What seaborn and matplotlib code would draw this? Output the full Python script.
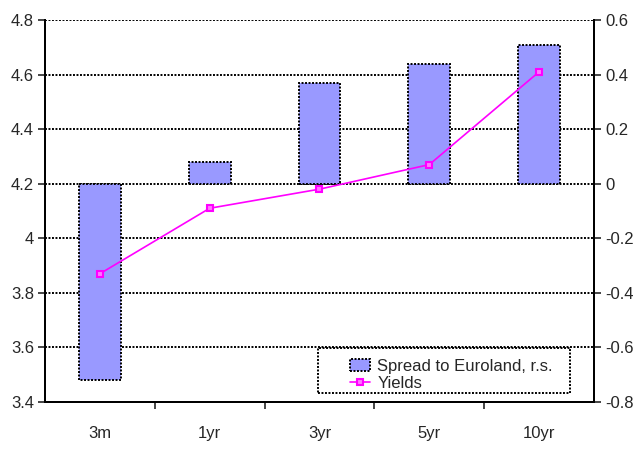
import pandas as pd
import matplotlib.pyplot as plt
import numpy as np
import seaborn as sns
from matplotlib.patches import Patch, Rectangle
from matplotlib.lines import Line2D
from matplotlib.ticker import FixedLocator

maturities = ["3m", "1yr", "3yr", "5yr", "10yr"]
spread = [-0.72, 0.08, 0.37, 0.44, 0.51]
yields = [3.87, 4.11, 4.18, 4.27, 4.61]

sns.set_style("white")
plt.rcParams['font.family'] = ['Liberation Sans', 'DejaVu Sans']

datam = pd.DataFrame({"Maturity": maturities, "Spread": spread, "Yields": yields})

dot = (0, (1, 0.8))
lw = 1.4
fig = plt.figure(figsize=(6.38, 4.5), dpi=100)
ax = fig.add_axes([0.0705, 0.1067, 0.8605, 0.8489])
ax2 = ax.twinx()

# bars on the right scale, behind
sns.barplot(x="Maturity", y="Spread", data=datam, ax=ax2, color="#9999FF",
            saturation=1, width=0.38, edgecolor="black", linewidth=lw, linestyle=dot)
ax2.set_ylim(-0.8, 0.6)
ax2.set_yticks(np.arange(-0.8, 0.61, 0.2))
ax2.set_yticklabels(["-0.8", "-0.6", "-0.4", "-0.2", "0", "0.2", "0.4", "0.6"])
ax2.yaxis.grid(True, color="black", linestyle=dot, linewidth=lw)
ax2.set_axisbelow(True)
ax2.set_ylabel("")
ax2.set_xlabel("")

# line on the left scale, on top
sns.lineplot(x="Maturity", y="Yields", data=datam, ax=ax, color="#FF00FF",
             marker="s", markersize=5, markerfacecolor="#FF77FF",
             markeredgecolor="#FF00FF", markeredgewidth=1.5, linewidth=1.2, sort=False)
ax.set_zorder(ax2.get_zorder() + 1)
ax.patch.set_visible(False)
ax.set_ylim(3.4, 4.8)
ax.set_yticks(np.arange(3.4, 4.81, 0.2))
ax.set_yticklabels(["3.4", "3.6", "3.8", "4", "4.2", "4.4", "4.6", "4.8"])
ax.set_xlim(-0.5, 4.5)
ax.set_ylabel("")
ax.set_xlabel("")

for a in (ax, ax2):
    for s in a.spines.values():
        s.set_linestyle(dot)
        s.set_color("black")
        s.set_linewidth(lw)
    a.spines["top"].set_visible(False)

ax.tick_params(axis="y", direction="out", length=5, width=1.2, labelsize=12, pad=3, left=True)
ax2.tick_params(axis="y", direction="out", length=5, width=1.2, labelsize=12, pad=3, right=True)
ax.tick_params(axis="x", which="major", length=0, labelsize=12, pad=17)
ax.xaxis.set_minor_locator(FixedLocator([0.5, 1.5, 2.5, 3.5]))
ax.tick_params(axis="x", which="minor", direction="out", length=5, width=1.2, bottom=True)
ax2.tick_params(axis="x", length=0)

# legend box
box = Rectangle((0.497, 0.024), 0.459, 0.117, transform=ax.transAxes, facecolor="white",
                edgecolor="black", linestyle=dot, linewidth=lw, zorder=5)
ax.add_patch(box)
handles = [Patch(facecolor="#9999FF", edgecolor="black", linestyle=dot, linewidth=lw),
           Line2D([], [], color="#FF00FF", marker="s", markersize=5,
                  markerfacecolor="#FF77FF", markeredgewidth=1.5, linewidth=1.2)]
leg = ax.legend(handles, ["Spread to Euroland, r.s.", "Yields"], loc="lower left",
                bbox_to_anchor=(0.555, 0.03), fontsize=12, frameon=False,
                borderpad=0, labelspacing=0.1, handlelength=1.2,
                handletextpad=0.45, borderaxespad=0)
leg.set_zorder(6)

plt.savefig("out.png", dpi=100)
